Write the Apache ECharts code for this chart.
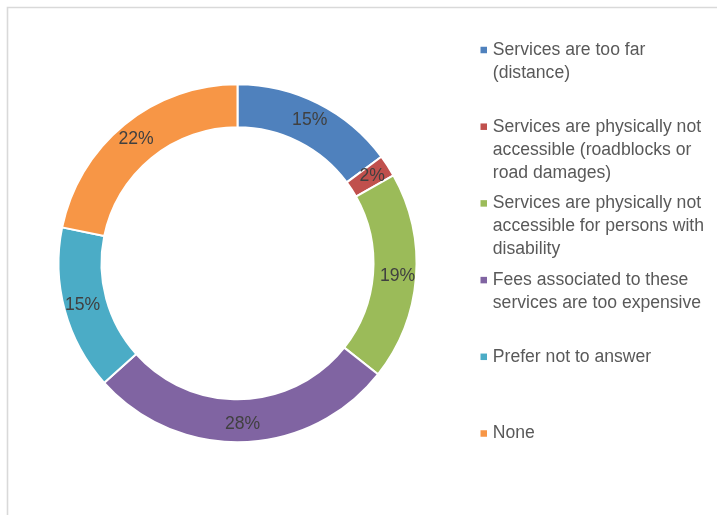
<!DOCTYPE html>
<html>
<head>
<meta charset="utf-8">
<script src="https://cdn.jsdelivr.net/npm/echarts@6/dist/echarts.min.js"></script>
<style>
  html, body { margin: 0; padding: 0; background: #fff; }
  #chart { width: 717px; height: 515px; }
</style>
</head>
<body>
<div id="chart"></div>
<script>
// Reasons given, share of respondents (%)
const categories = [
  'Services are too far (distance)',
  'Services are physically not accessible (roadblocks or road damages)',
  'Services are physically not accessible for persons with disability',
  'Fees associated to these services are too expensive',
  'Prefer not to answer',
  'None'
];
const values = [15, 2, 19, 28, 15, 22];
// Legend wording, broken into lines
const legendLines = [
  ['Services are too far', '(distance)'],
  ['Services are physically not', 'accessible (roadblocks or', 'road damages)'],
  ['Services are physically not', 'accessible for persons with', 'disability'],
  ['Fees associated to these', 'services are too expensive'],
  ['Prefer not to answer'],
  ['None']
];
const colors = ['#4F81BD', '#C0504D', '#9BBB59', '#8064A2', '#4BACC6', '#F79646'];

const FONT = "'Liberation Sans', Arial, sans-serif";
const LINE_H = 23;
const FIRST_ROW_Y = 50;
const ROW_STEP = 76.7;

// One legend block per entry so the swatch sits beside the first text line
const legends = categories.map((name, i) => {
  const lines = legendLines[i];
  const n = lines.length;
  const centreY = FIRST_ROW_Y + ROW_STEP * i;
  // leading empty lines keep the swatch level with the first line
  const text = new Array(n - 1).fill('').concat(lines).join('\n');
  return {
    data: [name],
    orient: 'vertical',
    left: 480.5,
    top: centreY - (2 * n - 1) * LINE_H / 2,
    padding: 0,
    itemWidth: 6.5,
    itemHeight: 6.5,
    itemGap: 0,
    icon: 'rect',
    itemStyle: { borderWidth: 0 },
    selectedMode: false,
    formatter: () => text,
    textStyle: {
      fontFamily: FONT,
      fontSize: 17.6,
      lineHeight: LINE_H,
      color: '#595959',
      padding: [0, 0, 0, 0.8]
    }
  };
});

const chart = echarts.init(document.getElementById('chart'), null, { renderer: 'canvas' });
chart.setOption({
  animation: false,
  backgroundColor: '#ffffff',
  color: colors,
  graphic: [{
    type: 'rect',
    shape: { x: 7.5, y: 7.5, width: 760, height: 560 },
    style: { fill: 'none', stroke: '#d9d9d9', lineWidth: 1.6 },
    silent: true
  }],
  legend: legends,
  series: [{
    type: 'pie',
    center: [237.5, 263.3],
    radius: [136, 179],
    startAngle: 90,
    clockwise: true,
    avoidLabelOverlap: false,
    itemStyle: { borderColor: '#ffffff', borderWidth: 2 },
    label: {
      show: true,
      position: 'inside',
      formatter: p => p.value + '%',
      fontFamily: FONT,
      fontSize: 17.6,
      color: '#404040'
    },
    labelLine: { show: false },
    emphasis: { disabled: true },
    data: categories.map((name, i) => ({ name: name, value: values[i] }))
  }]
});
</script>
</body>
</html>
